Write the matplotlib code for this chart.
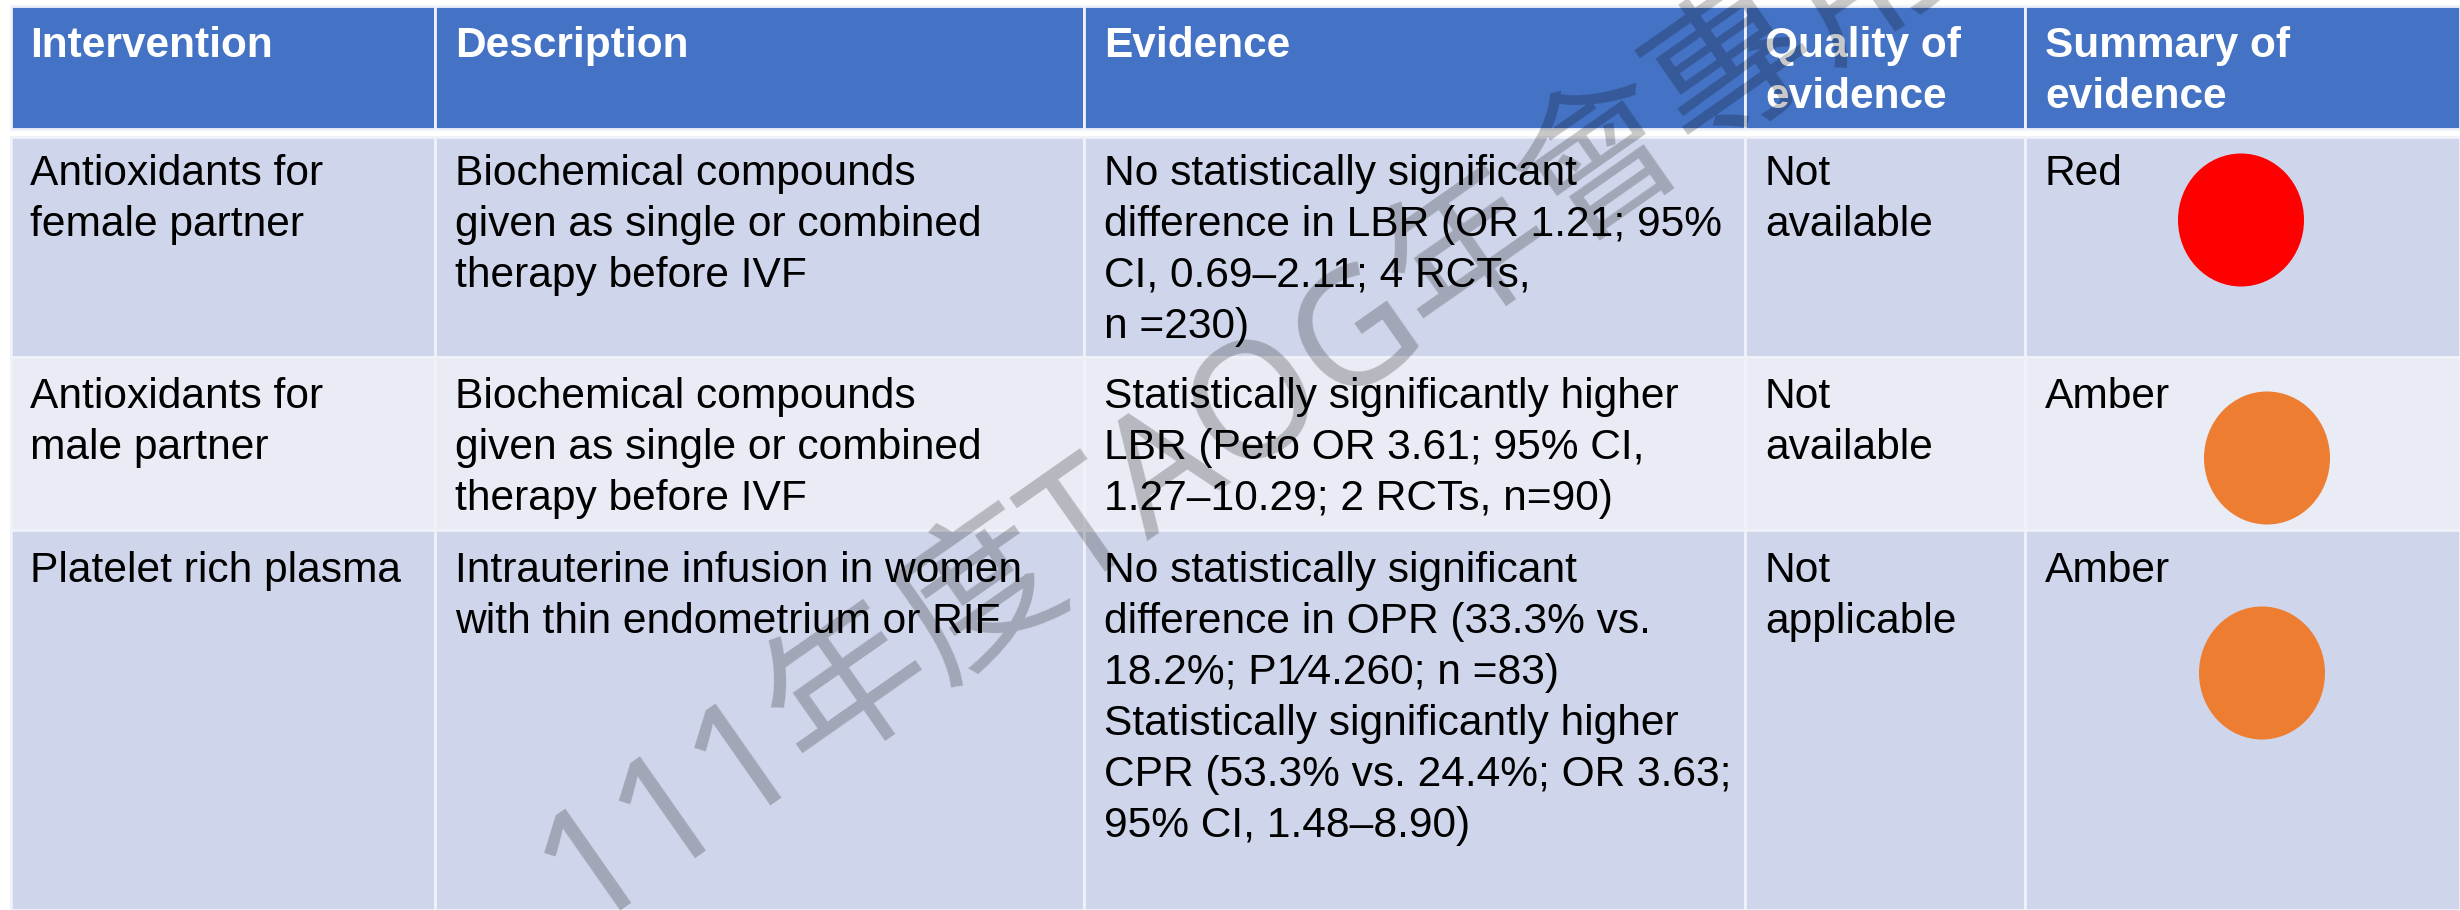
import matplotlib
matplotlib.use('Agg')
import matplotlib.pyplot as plt
from matplotlib.patches import Rectangle, Ellipse

plt.rcParams['font.family'] = ['Liberation Sans', 'DejaVu Sans']

# table text
headers = [['Intervention'], ['Description'], ['Evidence'],
           ['Quality of', 'evidence'], ['Summary of', 'evidence']]
row1 = [['Antioxidants for', 'female partner'],
        ['Biochemical compounds', 'given as single or combined', 'therapy before IVF'],
        ['No statistically significant', 'difference in LBR (OR 1.21; 95%',
         'CI, 0.69–2.11; 4 RCTs,', 'n =230)'],
        ['Not', 'available'],
        ['Red']]
row2 = [['Antioxidants for', 'male partner'],
        ['Biochemical compounds', 'given as single or combined', 'therapy before IVF'],
        ['Statistically significantly higher', 'LBR (Peto OR 3.61; 95% CI,',
         '1.27–10.29; 2 RCTs, n=90)'],
        ['Not', 'available'],
        ['Amber']]
row3 = [['Platelet rich plasma'],
        ['Intrauterine infusion in women', 'with thin endometrium or RIF'],
        ['No statistically significant', 'difference in OPR (33.3% vs.',
         '18.2%; P1⁄4.260; n =83)', 'Statistically significantly higher',
         'CPR (53.3% vs. 24.4%; OR 3.63;', '95% CI, 1.48–8.90)'],
        ['Not', 'applicable'],
        ['Amber']]
watermark = '111年度TAOG年會專用'

col_edges = [11, 435, 1084, 1745, 2025, 2460]
row_edges = [6, 133, 357, 530, 910]
first_baseline = [57, 185, 408, 582]
line_step = 51
text_pad = 20

row_colors = ['#4472C4', '#CFD5EA', '#E9EBF5', '#CFD5EA']
dots = [(2241, 220, '#FF0000'), (2267, 458, '#ED7D31'), (2262, 673, '#ED7D31')]

fig = plt.figure(figsize=(24.6, 9.1), dpi=100, facecolor='w')
ax = fig.add_axes([0, 0, 1, 1])
ax.set_xlim(0, 2460)
ax.set_ylim(910, 0)
ax.axis('off')

rows = [headers, row1, row2, row3]
for r, cells in enumerate(rows):
    top = row_edges[r] + (4 if r == 1 else 0)
    bottom = row_edges[r + 1] - (4 if r == 0 else 0)
    for c, cell in enumerate(cells):
        ax.add_patch(Rectangle((col_edges[c], top), col_edges[c + 1] - col_edges[c],
                               bottom - top, facecolor=row_colors[r],
                               edgecolor='#F0F2F9', linewidth=2))
        for i, line in enumerate(cell):
            ax.text(col_edges[c] + text_pad - (1 if c == 0 else 0),
                    first_baseline[r] + i * line_step, line,
                    fontsize=30.5 if r == 0 else 30.6, va='baseline', ha='left',
                    color='w' if r == 0 else 'k',
                    fontweight='bold' if r == 0 else 'normal', zorder=3)

for x, y, col in dots:
    ax.add_patch(Ellipse((x, y), 126, 133, facecolor=col, edgecolor='none', zorder=4))

# watermark sits over everything, goes off the top edge like the original
ax.text(582, 927, watermark, fontsize=116, rotation=35, rotation_mode='anchor',
        ha='left', va='baseline', color='k', alpha=0.22, zorder=5,
        family=['Noto Sans', 'Noto Sans CJK TC'])

plt.savefig('out.png', dpi=100)
